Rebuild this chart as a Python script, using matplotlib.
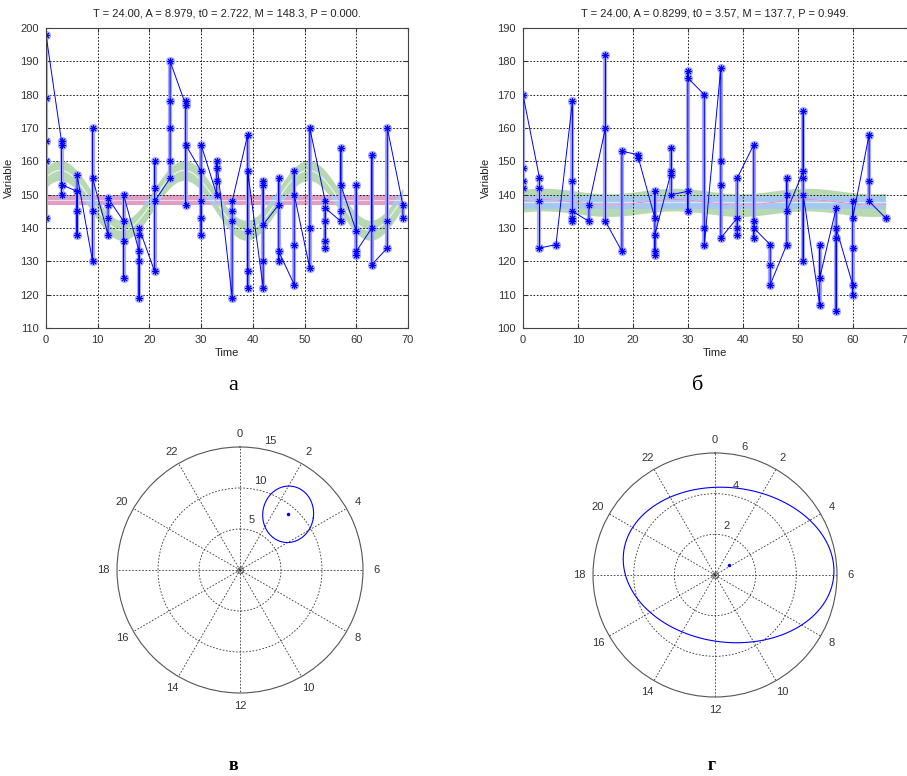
import numpy as np
import matplotlib.pyplot as plt

plt.rcParams['font.family'] = ['Liberation Sans', 'DejaVu Sans']

# Panel a: sampling times and measured values (one list per time point)
tiempos_a = [0, 3, 6, 9, 12, 15, 18, 21, 24, 27, 30, 33, 36, 39, 42, 45, 48, 51, 54, 57, 60, 63, 66, 69]
valores_a = [
    [143, 160, 166, 179, 198],
    [166, 165, 150, 153],
    [151, 145, 138, 156],
    [130, 145, 170, 155],
    [138, 143, 147, 149],
    [142, 136, 125, 150],
    [133, 130, 119, 138, 140],
    [127, 160, 152, 148],
    [155, 160, 170, 178, 190],
    [177, 178, 147, 165],
    [157, 148, 143, 138, 165],
    [150, 154, 158, 160],
    [119, 142, 145, 148],
    [168, 139, 127, 122, 157],
    [122, 130, 153, 154, 141],
    [147, 155, 130, 133],
    [123, 135, 157, 150],
    [128, 140, 170],
    [148, 134, 136, 142, 146],
    [142, 145, 164, 153],
    [139, 153, 132, 133],
    [140, 162, 129],
    [134, 142, 170],
    [147, 143],
]
T_a, A_a, t0_a, M_a = 24.0, 8.979, 2.722, 148.3
titulo_a = 'T = 24.00, A = 8.979, t0 = 2.722, M = 148.3, P = 0.000.'
banda_mesor_a = 1.5
banda_ajuste_a = 3.0

# Panel b
tiempos_b = [0, 3, 6, 9, 12, 15, 18, 21, 24, 27, 30, 33, 36, 39, 42, 45, 48, 51, 54, 57, 60, 63, 66]
valores_b = [
    [142, 144, 148, 170],
    [145, 142, 138, 124],
    [125],
    [168, 144, 132, 133, 135],
    [132, 137],
    [160, 182, 132],
    [123, 153],
    [152, 151],
    [133, 141, 123, 122, 128],
    [147, 154, 146, 140],
    [141, 135, 177, 175],
    [170, 130, 125],
    [178, 150, 143, 127],
    [133, 130, 128, 145],
    [155, 132, 127, 130],
    [125, 119, 113],
    [125, 145, 140, 135],
    [147, 165, 145, 120, 140],
    [107, 125, 115],
    [136, 105, 127, 130],
    [113, 110, 124, 138, 133],
    [158, 144, 138],
    [133],
]
T_b, A_b, t0_b, M_b = 24.0, 0.8299, 3.57, 137.7
titulo_b = 'T = 24.00, A = 0.8299, t0 = 3.57, M = 137.7, P = 0.949.'
banda_mesor_b = 2.0
banda_ajuste_b = 3.4

# Confidence ellipses for the polar plots (semi axes and tilt in degrees)
elipse_v = (3.1, 3.45, -8)
elipse_g = (5.2, 3.8, -7)

verde = '#b7d9b1'
rosa = '#e09fc2'
celeste = '#a5c9ee'
lila = '#a8a8ff'
gris = '#333333'
asterisco = (8, 2, 0)


def panel_cosinor(ax, tiempos, valores, T, A, t0, M, ancho_mesor, ancho_ajuste, titulo, ymin, ymax):
    # fitted cosine with its band and the mesor band
    tt = np.linspace(0, tiempos[-1], 500)
    ajuste = M + A * np.cos(2 * np.pi * (tt - t0) / T)
    g_lo, g_hi = ajuste - ancho_ajuste, ajuste + ancho_ajuste
    p_lo, p_hi = np.full_like(tt, M - ancho_mesor), np.full_like(tt, M + ancho_mesor)
    ax.fill_between(tt, g_lo, g_hi, color=verde, lw=0, zorder=1)
    ax.fill_between(tt, p_lo, p_hi, color=rosa, lw=0, zorder=1)
    lo = np.maximum(g_lo, p_lo)
    hi = np.minimum(g_hi, p_hi)
    ax.fill_between(tt, lo, hi, where=hi > lo, interpolate=True, color=celeste, lw=0, zorder=1)
    ax.plot(tt, np.full_like(tt, M), color='white', lw=0.8, alpha=0.6, zorder=2)
    ax.plot(tt, ajuste, color='white', lw=0.8, alpha=0.8, zorder=2)
    dentro = np.where((ajuste > p_lo) & (ajuste < p_hi), ajuste, np.nan)
    ax.plot(tt, dentro, color='#e58fbf', lw=0.8, zorder=2)

    # range of values at each time
    for t, v in zip(tiempos, valores):
        ax.plot([t, t], [min(v), max(v)], color=lila, lw=3, solid_capstyle='butt', zorder=3)

    t_all = np.concatenate([[t] * len(v) for t, v in zip(tiempos, valores)])
    y_all = np.concatenate(valores)
    ax.plot(t_all, y_all, ls='none', marker=asterisco, ms=6.5, mew=1.8, color=lila, zorder=4)
    ax.plot(t_all, y_all, color='#0000ff', lw=0.7, marker=asterisco, ms=5, mew=0.7, zorder=5)

    ax.set_xlim(0, 70)
    ax.set_ylim(ymin, ymax)
    ax.set_xticks(np.arange(0, 71, 10))
    ax.set_yticks(np.arange(ymin, ymax + 1, 10))
    ax.grid(True, color='black', ls=(0, (2, 2)), lw=0.6)
    ax.set_axisbelow(False)
    ax.tick_params(direction='in', length=3, labelsize=8, colors=gris, top=True, right=True, pad=5)
    for s in ax.spines.values():
        s.set_color('#444444')
        s.set_linewidth(0.8)
        s.set_zorder(6)
    ax.set_title(titulo, fontsize=8, color='#222222', pad=8)
    ax.set_xlabel('Time', fontsize=8, color='#222222', labelpad=2)
    ax.set_ylabel('Variable', fontsize=8, color='#222222', labelpad=5)


def panel_polar(ax, A, t0, rmax, anillos, elipse):
    ax.set_theta_zero_location('N')
    ax.set_theta_direction(-1)
    horas = np.arange(0, 24, 2)
    ax.set_thetagrids(horas * 15, labels=[str(h) for h in horas], fontsize=8, color=gris)
    ax.set_rlim(0, rmax)
    ax.set_rgrids(anillos, labels=[''] * len(anillos))
    ax.grid(True, color=gris, ls=(0, (2, 2)), lw=0.6)
    ax.spines['polar'].set_color('#555555')
    ax.spines['polar'].set_linewidth(0.8)
    ax.tick_params(axis='x', pad=-1)
    for r in list(anillos) + [rmax]:
        ax.text(np.deg2rad(13), r + 0.08 * rmax, str(r), fontsize=8, color=gris,
                ha='center', va='center')

    # ellipse around the (A, t0) point
    th0 = 2 * np.pi * t0 / 24
    x0, y0 = A * np.sin(th0), A * np.cos(th0)
    a, b, giro = elipse
    g = np.deg2rad(giro)
    s = np.linspace(0, 2 * np.pi, 400)
    ex, ey = a * np.cos(s), b * np.sin(s)
    x = x0 + ex * np.cos(g) - ey * np.sin(g)
    y = y0 + ex * np.sin(g) + ey * np.cos(g)
    ax.plot(np.arctan2(x, y), np.hypot(x, y), color='#0000ff', lw=0.8)
    ax.plot([th0], [A], marker='.', ms=3, color='#0000ff')
    ax.plot([0], [0], marker='o', ms=4, mfc='none', mec='#555555', mew=0.8)


fig = plt.figure(figsize=(9.07, 7.76), dpi=100)
W, H = 907, 776

ax1 = fig.add_axes([46 / W, 1 - 328 / H, 362 / W, 300 / H])
panel_cosinor(ax1, tiempos_a, valores_a, T_a, A_a, t0_a, M_a, banda_mesor_a, banda_ajuste_a, titulo_a, 110, 200)

ax2 = fig.add_axes([523 / W, 1 - 328 / H, 384.6 / W, 300 / H])
panel_cosinor(ax2, tiempos_b, valores_b, T_b, A_b, t0_b, M_b, banda_mesor_b, banda_ajuste_b, titulo_b, 100, 190)

ax3 = fig.add_axes([(240 - 123) / W, 1 - (570 + 123) / H, 246 / W, 246 / H], projection='polar')
panel_polar(ax3, A_a, t0_a, 15, [5, 10], elipse_v)

ax4 = fig.add_axes([(715 - 122) / W, 1 - (575 + 122) / H, 244 / W, 244 / H], projection='polar')
panel_polar(ax4, A_b, t0_b, 6, [2, 4], elipse_g)

# panel letters
serif = ['Liberation Serif', 'DejaVu Serif']
fig.text(233 / W, 1 - 386 / H, 'а', fontsize=16, family=serif, ha='center', va='center')
fig.text(698 / W, 1 - 386 / H, 'б', fontsize=16, family=serif, ha='center', va='center')
fig.text(233 / W, 1 - 766 / H, 'в', fontsize=13, family=serif, weight='bold', ha='center', va='center')
fig.text(712 / W, 1 - 766 / H, 'г', fontsize=13, family=serif, weight='bold', ha='center', va='center')

fig.savefig('out.png', dpi=100)
